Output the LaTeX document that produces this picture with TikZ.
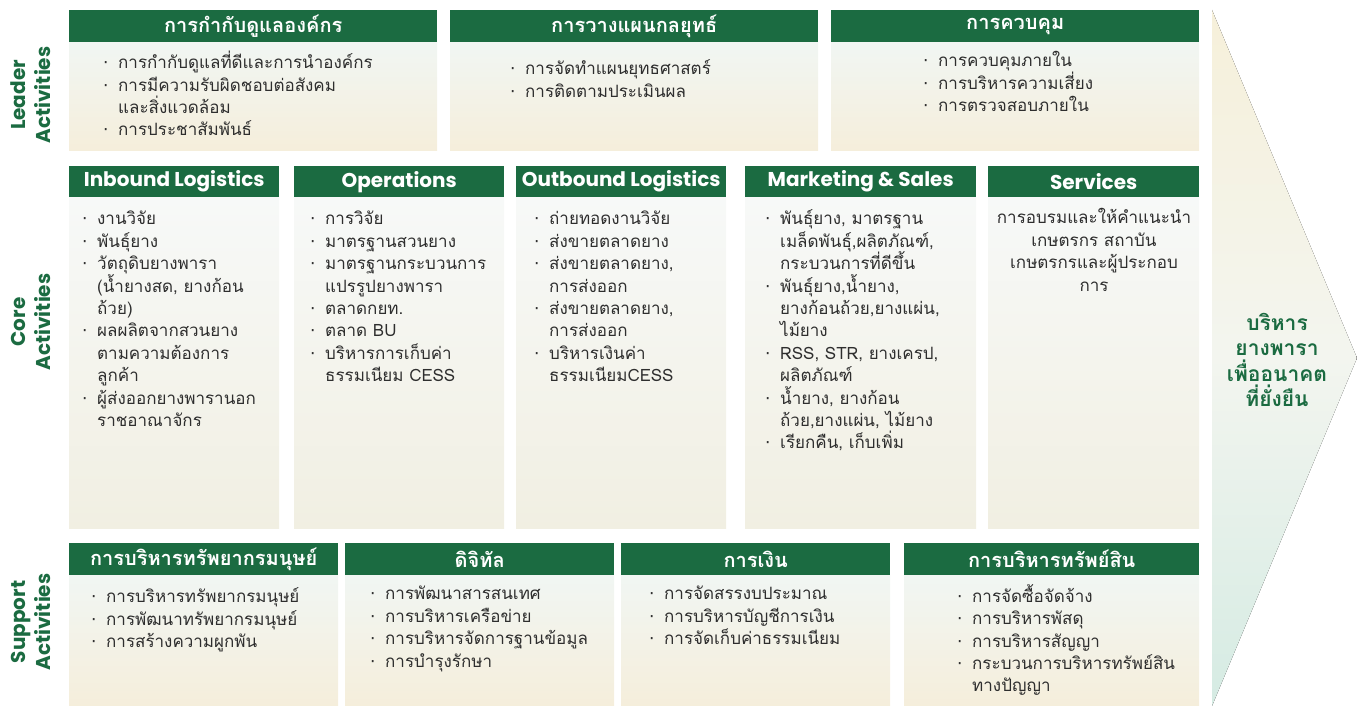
\documentclass[tikz,border=0pt]{standalone}
\usepackage{fontspec}
\setmainfont[Script=Thai]{Loma}
\newfontfamily\labelfont{Poppins}
\newfontfamily\dotfont{DejaVu Sans}
\usetikzlibrary{positioning}

\definecolor{hdrgreen}{HTML}{1B6B41}
\definecolor{txtgray}{HTML}{2E2E2E}
\definecolor{paneltop}{HTML}{F1F6F3}
\definecolor{panelbot}{HTML}{F5EEDB}
\definecolor{coretop}{HTML}{F7F9F8}
\definecolor{corebot}{HTML}{F1EFE2}
\definecolor{arrowtop}{HTML}{F6F0DA}
\definecolor{arrowmid}{HTML}{F3F5EF}
\definecolor{arrowbot}{HTML}{D5EBE3}

\newcommand{\bul}{\strut\makebox[15pt][l]{{\dotfont ·}}}
\newcommand{\ind}{\strut\hspace*{15pt}}
\newcommand{\tightlines}{\lineskiplimit=-30pt\relax}

\begin{document}
\begin{tikzpicture}[
    x=1pt, y=-1pt,
    hdr/.style={fill=hdrgreen, text=white, inner sep=0pt, minimum height=32pt,
                minimum width=#1, anchor=north west,
                font=\fontsize{20}{24}\selectfont\bfseries},
    enhdr/.style={hdr=#1, font=\labelfont\fontsize{20}{24}\selectfont\bfseries},
    panel/.style={top color=paneltop, bottom color=panelbot, inner sep=0pt,
                  minimum width=#1},
    corepanel/.style={panel=#1, top color=coretop, bottom color=corebot},
    items/.style={anchor=north west, inner sep=0pt, align=left, text=txtgray,
                  font=\fontsize{17}{22.4}\selectfont\tightlines},
    rowlabel/.style={rotate=90, align=center, text=hdrgreen, inner sep=0pt,
                     font=\labelfont\fontsize{20}{25}\selectfont\bfseries},
]
    \useasboundingbox (0,0) rectangle (1357,706);

    % Value arrow at the right
    \fill[top color=arrowtop, bottom color=arrowbot, middle color=arrowmid]
        (1212,10) -- (1357,358) -- (1212,706) -- cycle;
    \node[text=hdrgreen, align=center, font=\fontsize{21}{25.5}\selectfont\bfseries]
        (goal) at (1277,360) {บริหาร\\ยางพารา\\เพื่ออนาคต\\ที่ยั่งยืน};

    % Row labels
    \node[rowlabel] (leaderlbl) at (31,95) {Leader\\Activities};
    \node[rowlabel] (corelbl) at (31,322) {Core\\Activities};
    \node[rowlabel] (supportlbl) at (31,622) {Support\\Activities};

    % Leader activities
    \node[hdr=368pt] (govh) at (69,10) {การกำกับดูแลองค์กร};
    \node[panel=368pt, minimum height=108pt, below=0pt of govh] (govb) {};
    \node[items] (govt) at (103,51) {\bul การกำกับดูแลที่ดีและการนำองค์กร\\
        \bul การมีความรับผิดชอบต่อสังคม\\ \ind และสิ่งแวดล้อม\\
        \bul การประชาสัมพันธ์};

    \node[hdr=368pt] (planh) at (450,10) {การวางแผนกลยุทธ์};
    \node[panel=368pt, minimum height=108pt, below=0pt of planh] (planb) {};
    \node[items] (plant) at (510,59) {\bul การจัดทำแผนยุทธศาสตร์\\
        \bul การติดตามประเมินผล};

    \node[hdr=368pt] (ctrlh) at (831,10) {การควบคุม};
    \node[panel=368pt, minimum height=108pt, below=0pt of ctrlh] (ctrlb) {};
    \node[items] (ctrlt) at (923,51) {\bul การควบคุมภายใน\\
        \bul การบริหารความเสี่ยง\\ \bul การตรวจสอบภายใน};

    % Core activities
    \node[enhdr=210pt, minimum height=31pt] (inh) at (69,166) {Inbound Logistics};
    \node[corepanel=210pt, minimum height=331pt, below=0pt of inh] (inb) {};
    \node[items] (int) at (82,209) {\bul งานวิจัย\\ \bul พันธุ์ยาง\\
        \bul วัตถุดิบยางพารา\\ \ind (น้ำยางสด, ยางก้อน\\ \ind ถ้วย)\\
        \bul ผลผลิตจากสวนยาง\\ \ind ตามความต้องการ\\ \ind ลูกค้า\\
        \bul ผู้ส่งออกยางพารานอก\\ \ind ราชอาณาจักร};

    \node[enhdr=210pt, minimum height=31pt] (oph) at (294,166) {Operations};
    \node[corepanel=210pt, minimum height=331pt, below=0pt of oph] (opb) {};
    \node[items] (opt) at (310,209) {\bul การวิจัย\\ \bul มาตรฐานสวนยาง\\
        \bul มาตรฐานกระบวนการ\\ \ind แปรรูปยางพารา\\ \bul ตลาดกยท.\\
        \bul ตลาด BU\\ \bul บริหารการเก็บค่า\\ \ind ธรรมเนียม CESS};

    \node[enhdr=210pt, minimum height=31pt] (outh) at (516,166) {Outbound Logistics};
    \node[corepanel=210pt, minimum height=331pt, below=0pt of outh] (outb) {};
    \node[items] (outt) at (534,209) {\bul ถ่ายทอดงานวิจัย\\ \bul ส่งขายตลาดยาง\\
        \bul ส่งขายตลาดยาง,\\ \ind การส่งออก\\ \bul ส่งขายตลาดยาง,\\
        \ind การส่งออก\\ \bul บริหารเงินค่า\\ \ind ธรรมเนียมCESS};

    \node[enhdr=231pt, minimum height=31pt] (mkth) at (745,166) {Marketing \& Sales};
    \node[corepanel=231pt, minimum height=331pt, below=0pt of mkth] (mktb) {};
    \node[items] (mktt) at (765,209) {\bul พันธุ์ยาง, มาตรฐาน\\
        \ind เมล็ดพันธุ์,ผลิตภัณฑ์,\\ \ind กระบวนการที่ดีขึ้น\\
        \bul พันธุ์ยาง,น้ำยาง,\\ \ind ยางก้อนถ้วย,ยางแผ่น,\\ \ind ไม้ยาง\\
        \bul RSS, STR, ยางเครป,\\ \ind ผลิตภัณฑ์\\ \bul น้ำยาง, ยางก้อน\\
        \ind ถ้วย,ยางแผ่น, ไม้ยาง\\ \bul เรียกคืน, เก็บเพิ่ม};

    \node[enhdr=211pt, minimum height=31pt] (svch) at (988,166) {Services};
    \node[corepanel=211pt, minimum height=331pt, below=0pt of svch] (svcb) {};
    \node[items, align=center, anchor=north] (svct) at (1094,208)
        {\strut การอบรมและให้คำแนะนำ\\ \strut เกษตรกร สถาบัน\\
         \strut เกษตรกรและผู้ประกอบ\\ \strut การ};

    % Support activities
    \node[hdr=269pt] (hrh) at (69,543) {การบริหารทรัพยากรมนุษย์};
    \node[panel=269pt, minimum height=131pt, below=0pt of hrh] (hrb) {};
    \node[items] (hrt) at (91,587) {\bul การบริหารทรัพยากรมนุษย์\\
        \bul การพัฒนาทรัพยากรมนุษย์\\ \bul การสร้างความผูกพัน};

    \node[hdr=269pt] (digh) at (345,543) {ดิจิทัล};
    \node[panel=269pt, minimum height=131pt, below=0pt of digh] (digb) {};
    \node[items] (digt) at (370,584) {\bul การพัฒนาสารสนเทศ\\
        \bul การบริหารเครือข่าย\\ \bul การบริหารจัดการฐานข้อมูล\\
        \bul การบำรุงรักษา};

    \node[hdr=269pt] (finh) at (621,543) {การเงิน};
    \node[panel=269pt, minimum height=131pt, below=0pt of finh] (finb) {};
    \node[items] (fint) at (649,584) {\bul การจัดสรรงบประมาณ\\
        \bul การบริหารบัญชีการเงิน\\ \bul การจัดเก็บค่าธรรมเนียม};

    \node[hdr=295pt] (asth) at (904,543) {การบริหารทรัพย์สิน};
    \node[panel=295pt, minimum height=131pt, below=0pt of asth] (astb) {};
    \node[items] (astt) at (957,584) {\bul การจัดซื้อจัดจ้าง\\
        \bul การบริหารพัสดุ\\ \bul การบริหารสัญญา\\
        \bul กระบวนการบริหารทรัพย์สิน\\ \ind ทางปัญญา};
\end{tikzpicture}
\end{document}
